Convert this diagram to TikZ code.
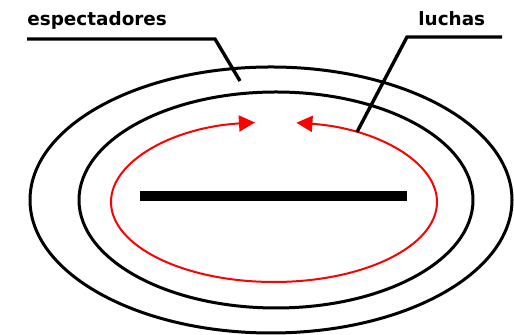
\documentclass[tikz,border=0pt]{standalone}
\usepackage{fontspec}
\setmainfont{DejaVu Sans}
\usepackage{tikz}
\usetikzlibrary{arrows.meta,positioning}

\begin{document}
\begin{tikzpicture}[x=0.5pt,y=0.5pt,
  ring/.style={line width=1.5pt, black},
  flow/.style={line width=1pt, red, -{Triangle[length=8pt,width=8pt]}},
  leader/.style={line width=1.7pt},
  tag/.style={font=\fontsize{9.2}{11}\selectfont\bfseries, inner sep=0pt, anchor=base west}]
\useasboundingbox (0,0) rectangle (514,335);
% Rings
\draw[ring] (271,135) ellipse [x radius=241, y radius=133];
\draw[ring] (276,135) ellipse [x radius=197, y radius=108];
% Bar
\draw[line width=5pt] (140,139) -- (407,139);
% Red flow, two arcs meeting at the top
\draw[flow] (274,133) ++(-90:163 and 80) arc[start angle=-90, end angle=-263.3, x radius=163, y radius=80];
\draw[flow] (274,133) ++(-90:163 and 80) arc[start angle=-90, end angle=82.1, x radius=163, y radius=80];
% Labels
\node[tag] (esp) at (27,309) {espectadores};
\node[tag] (luchas) at (418,309) {luchas};
\coordinate (espKnee) at (215,296);
\coordinate (espEnd) at (240,254);
\coordinate (luchasStart) at (502,298);
\coordinate (luchasKnee) at (407,298);
\coordinate (luchasEnd) at (357,203);
% Leaders
\draw[leader] (esp.west |- espKnee) -- (espKnee) -- (espEnd);
\draw[leader] (luchasStart) -- (luchasKnee) -- (luchasEnd);
\end{tikzpicture}
\end{document}
